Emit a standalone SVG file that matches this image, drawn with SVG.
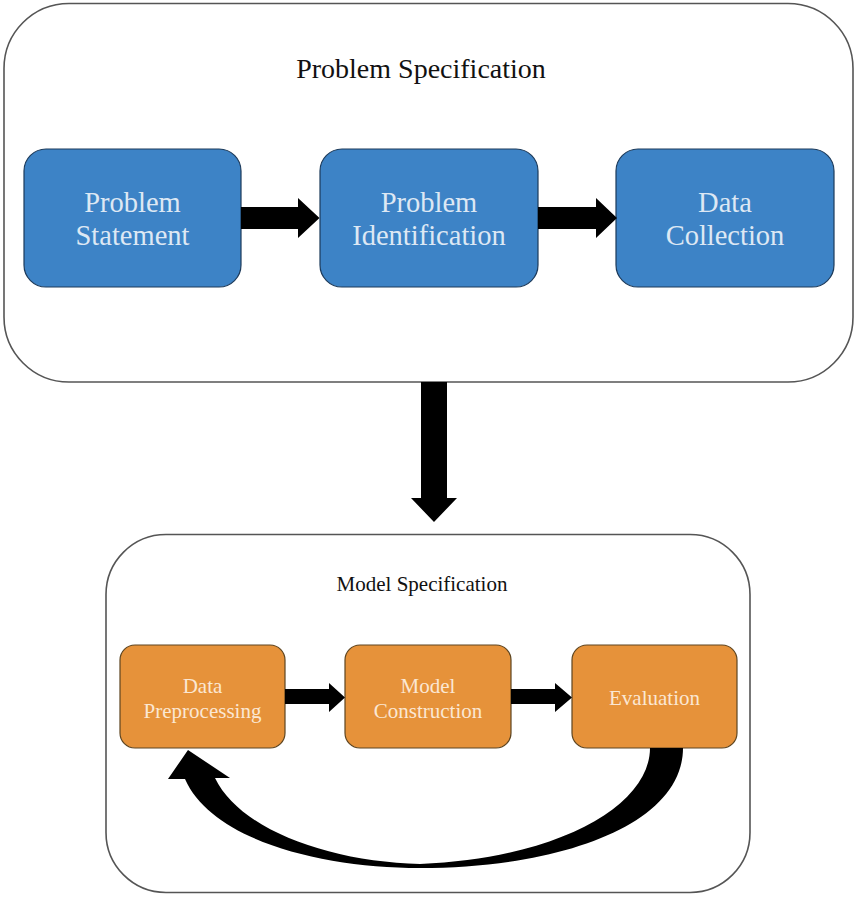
<svg xmlns="http://www.w3.org/2000/svg" width="855" height="897" viewBox="0 0 855 897">
<style>
.grp{fill:#ffffff;stroke:#555555;stroke-width:1.6}
.blue{fill:#3d83c6;stroke:#1c3a5a;stroke-width:1.2}
.orange{fill:#e6923a;stroke:#5e4520;stroke-width:1.2}
.title{font-family:"Liberation Serif",serif;fill:#111111;text-anchor:middle}
.bt{font-family:"Liberation Serif",serif;font-size:28.5px;fill:#dde8f4;text-anchor:middle}
.ot{font-family:"Liberation Serif",serif;font-size:21px;fill:#fbe7d3;text-anchor:middle}
.arr{fill:#000000}
</style>
<rect width="855" height="897" fill="#ffffff"/>
<g id="problem-specification">
<rect class="grp" x="4" y="3.5" width="849" height="378.5" rx="65"/>
<text class="title" x="421" y="78" font-size="28">Problem Specification</text>
</g>
<g id="model-specification">
<rect class="grp" x="106" y="534.5" width="644" height="358" rx="60"/>
<text class="title" x="422" y="591" font-size="21">Model Specification</text>
</g>
<g id="problem-statement">
<rect class="blue" x="24" y="149" width="217" height="138" rx="22"/>
<text class="bt" x="132.5" y="212">Problem</text>
<text class="bt" x="132.5" y="245">Statement</text>
</g>
<g id="problem-identification">
<rect class="blue" x="320" y="149" width="218" height="138" rx="22"/>
<text class="bt" x="429" y="212">Problem</text>
<text class="bt" x="429" y="245">Identification</text>
</g>
<g id="data-collection">
<rect class="blue" x="616" y="149" width="218" height="138" rx="22"/>
<text class="bt" x="725" y="212">Data</text>
<text class="bt" x="725" y="245">Collection</text>
</g>
<g id="data-preprocessing">
<rect class="orange" x="120" y="645" width="165" height="103" rx="15"/>
<text class="ot" x="202.5" y="693">Data</text>
<text class="ot" x="202.5" y="718">Preprocessing</text>
</g>
<g id="model-construction">
<rect class="orange" x="345" y="645" width="166" height="103" rx="15"/>
<text class="ot" x="428" y="693">Model</text>
<text class="ot" x="428" y="718">Construction</text>
</g>
<g id="evaluation">
<rect class="orange" x="572" y="645" width="165" height="103" rx="15"/>
<text class="ot" x="654.5" y="705">Evaluation</text>
</g>
<g id="connectors">
<path class="arr" d="M241 207 H298 V198 L319.5 218 L298 238 V229 H241 Z"/>
<path class="arr" d="M538 207 H596 V198 L617 218 L596 238 V229 H538 Z"/>
<path class="arr" d="M421 382 H447 V498 H457 L434 522 L411 498 H421 Z"/>
<path class="arr" d="M285 689 H329 V683 L345 697.5 L329 712 V704 H285 Z"/>
<path class="arr" d="M511 689 H555 V683 L572 697.5 L555 712 V704 H511 Z"/>
<path class="arr" d="M650 748 C650 805 560 858 420 864 C330 862 240 830 215 778 L230 778 L188 750 L168 779 L185 779 C212 840 320 868 420 868 C560 868 683 825 683 748 Z"/>
</g>
</svg>
